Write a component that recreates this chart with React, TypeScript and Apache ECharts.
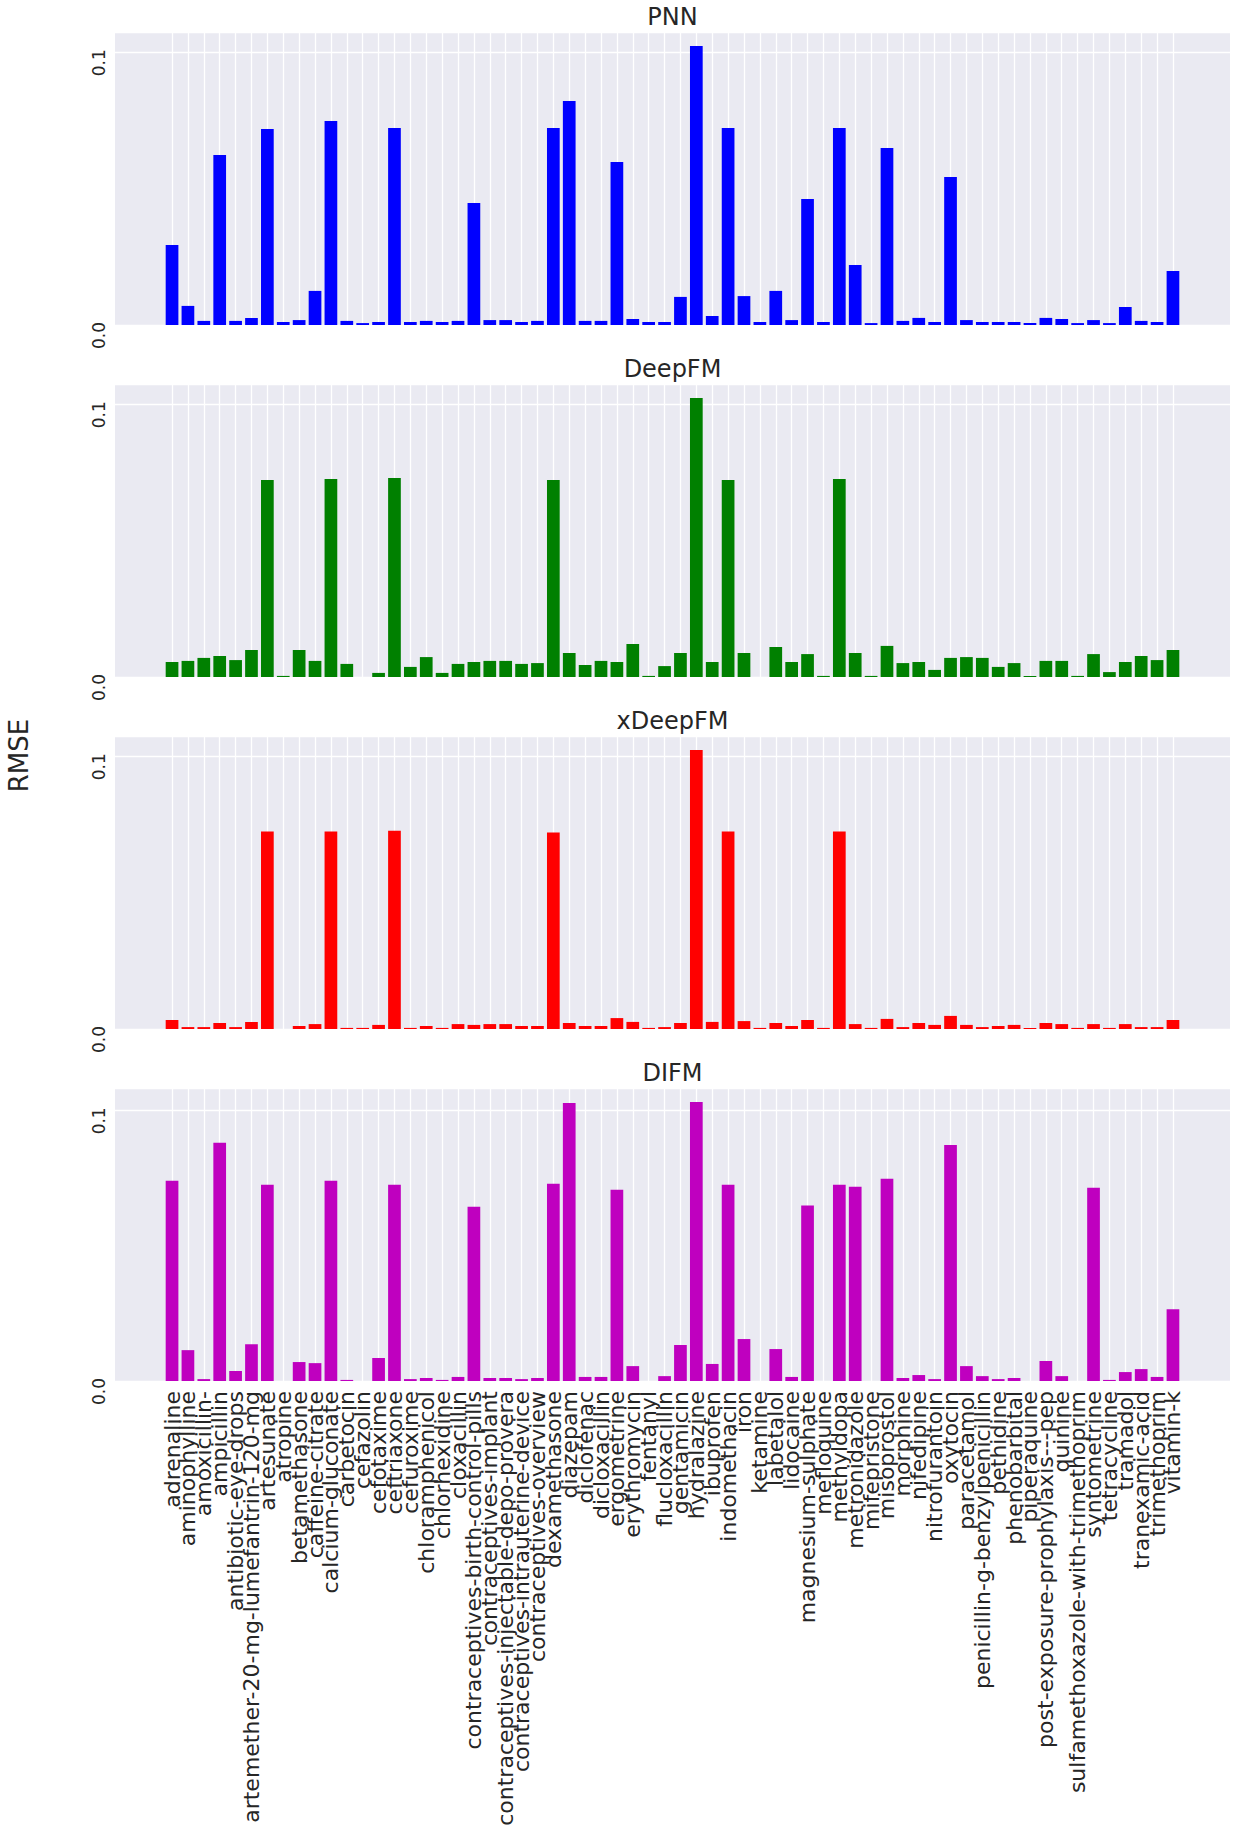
import React, { useEffect, useRef } from "react";
import * as echarts from "echarts";

const categories = [
  "adrenaline", "aminophylline", "amoxicillin-", "ampicillin", "antibiotic-eye-drops",
  "artemether-20-mg-lumefantrin-120-mg", "artesunate", "atropine", "betamethasone", "caffeine-citrate",
  "calcium-gluconate", "carbetocin", "cefazolin", "cefotaxime", "ceftriaxone",
  "cefuroxime", "chloramphenicol", "chlorhexidine", "cloxacillin", "contraceptives-birth-control-pills",
  "contraceptives-implant", "contraceptives-injectable-depo-provera", "contraceptives-intrauterine-device", "contraceptives-overview", "dexamethasone",
  "diazepam", "diclofenac", "dicloxacillin", "ergometrine", "erythromycin",
  "fentanyl", "flucloxacillin", "gentamicin", "hydralazine", "ibuprofen",
  "indomethacin", "iron", "ketamine", "labetalol", "lidocaine",
  "magnesium-sulphate", "mefloquine", "methyldopa", "metronidazole", "mifepristone",
  "misoprostol", "morphine", "nifedipine", "nitrofurantoin", "oxytocin",
  "paracetamol", "penicillin-g-benzylpenicillin", "pethidine", "phenobarbital", "piperaquine",
  "post-exposure-prophylaxis---pep", "quinine", "sulfamethoxazole-with-trimethoprim", "syntometrine", "tetracycline",
  "tramadol", "tranexamic-acid", "trimethoprim", "vitamin-k",
];

const pnnValues = [
  0.0293, 0.0070, 0.0015, 0.0623, 0.0015, 0.0026, 0.0719, 0.0011, 0.0018, 0.0125,
  0.0748, 0.0015, 0.0007, 0.0011, 0.0722, 0.0011, 0.0015, 0.0011, 0.0015, 0.0447,
  0.0018, 0.0018, 0.0011, 0.0015, 0.0722, 0.0821, 0.0015, 0.0015, 0.0598, 0.0022,
  0.0011, 0.0011, 0.0103, 0.1023, 0.0033, 0.0722, 0.0106, 0.0011, 0.0125, 0.0018,
  0.0462, 0.0011, 0.0722, 0.0220, 0.0007, 0.0649, 0.0015, 0.0026, 0.0011, 0.0543,
  0.0018, 0.0011, 0.0011, 0.0011, 0.0007, 0.0026, 0.0022, 0.0007, 0.0018, 0.0007,
  0.0066, 0.0015, 0.0011, 0.0198,
];

const deepfmValues = [
  0.0055, 0.0059, 0.0070, 0.0077, 0.0062, 0.0099, 0.0722, 0.0004, 0.0099, 0.0059,
  0.0726, 0.0048, 0.0, 0.0015, 0.0730, 0.0037, 0.0073, 0.0015, 0.0048, 0.0055,
  0.0059, 0.0059, 0.0048, 0.0051, 0.0722, 0.0088, 0.0044, 0.0059, 0.0055, 0.0121,
  0.0004, 0.0040, 0.0088, 0.1023, 0.0055, 0.0722, 0.0088, 0.0, 0.0110, 0.0055,
  0.0084, 0.0004, 0.0726, 0.0088, 0.0004, 0.0114, 0.0051, 0.0055, 0.0026, 0.0070,
  0.0073, 0.0070, 0.0037, 0.0051, 0.0004, 0.0059, 0.0059, 0.0004, 0.0084, 0.0018,
  0.0055, 0.0077, 0.0062, 0.0099,
];

const xdeepfmValues = [
  0.0033, 0.0007, 0.0007, 0.0022, 0.0007, 0.0026, 0.0724, 0.0, 0.0011, 0.0018,
  0.0724, 0.0004, 0.0004, 0.0015, 0.0727, 0.0004, 0.0011, 0.0004, 0.0018, 0.0015,
  0.0018, 0.0018, 0.0011, 0.0011, 0.0720, 0.0022, 0.0011, 0.0011, 0.0040, 0.0026,
  0.0004, 0.0007, 0.0022, 0.1023, 0.0026, 0.0724, 0.0029, 0.0004, 0.0022, 0.0011,
  0.0033, 0.0004, 0.0724, 0.0018, 0.0004, 0.0037, 0.0007, 0.0022, 0.0015, 0.0048,
  0.0015, 0.0007, 0.0011, 0.0015, 0.0004, 0.0022, 0.0018, 0.0004, 0.0018, 0.0004,
  0.0018, 0.0007, 0.0007, 0.0033,
];

const difmValues = [
  0.0740, 0.0114, 0.0007, 0.0880, 0.0037, 0.0136, 0.0725, 0.0, 0.0070, 0.0066,
  0.0740, 0.0004, 0.0, 0.0085, 0.0725, 0.0007, 0.0011, 0.0004, 0.0015, 0.0644,
  0.0011, 0.0011, 0.0007, 0.0011, 0.0729, 0.1027, 0.0015, 0.0015, 0.0707, 0.0055,
  0.0, 0.0018, 0.0133, 0.1031, 0.0063, 0.0725, 0.0155, 0.0, 0.0118, 0.0015,
  0.0648, 0.0, 0.0725, 0.0718, 0.0, 0.0747, 0.0011, 0.0022, 0.0007, 0.0872,
  0.0055, 0.0018, 0.0007, 0.0011, 0.0, 0.0074, 0.0018, 0.0, 0.0714, 0.0004,
  0.0033, 0.0044, 0.0015, 0.0265,
];

const modelNames = ["PNN", "DeepFM", "xDeepFM", "DIFM"];
const modelColors = ["#0000ff", "#008000", "#ff0000", "#bf00bf"];
const modelValues = [pnnValues, deepfmValues, xdeepfmValues, difmValues];
const yTickStep = 0.1;
const yAxisTitle = "RMSE";

const W = 1238;
const H = 1832;
const FONT = "DejaVu Sans";
const TEXT = "#262626";
const BG = "#EAEAF2";
const PLOT_LEFT = 115;
const PLOT_RIGHT = 1230;
const TOP0 = 32;
const STEP = 352;
const PH = 293;

function buildOption() {
  const n = categories.length;
  const dataSpan = n - 1 + 0.8;
  const unit = (PLOT_RIGHT - PLOT_LEFT) / (dataSpan * 1.1);
  const firstCenter = PLOT_LEFT + (dataSpan * 0.05 + 0.4) * unit;
  const innerWidth = (n - 1) * unit;

  const grid: any[] = [];
  const xAxis: any[] = [];
  const yAxis: any[] = [];
  const series: any[] = [];
  const graphic: any[] = [];

  modelNames.forEach((name, i) => {
    const top = TOP0 + STEP * i;
    const vals = modelValues[i];
    const ymax = Math.max(...vals) * 1.05;
    const isLast = i === modelNames.length - 1;

    // background grid (full plot area)
    grid.push({
      left: PLOT_LEFT,
      top,
      width: PLOT_RIGHT - PLOT_LEFT,
      height: PH,
      show: true,
      backgroundColor: BG,
      borderWidth: 0,
    });
    xAxis.push({ gridIndex: 2 * i, type: "value", min: 0, max: 1, show: false });
    yAxis.push({
      gridIndex: 2 * i,
      type: "value",
      min: 0,
      max: ymax,
      interval: yTickStep,
      axisLine: { show: false },
      axisTick: { show: false },
      splitLine: { show: true, lineStyle: { color: "#ffffff", width: 1.3 } },
      axisLabel: {
        rotate: 90,
        fontSize: 17,
        fontFamily: FONT,
        color: TEXT,
        margin: 8,
        padding: [0, 21, 0, 0],
        showMaxLabel: false,
        formatter: (v: number) => v.toFixed(1),
      },
    });

    // category grid (bar centres)
    grid.push({
      left: firstCenter,
      top,
      width: innerWidth,
      height: PH,
      show: false,
    });
    xAxis.push({
      gridIndex: 2 * i + 1,
      type: "category",
      data: categories,
      boundaryGap: false,
      axisLine: { show: false },
      axisTick: { show: false },
      splitLine: { show: true, interval: 0, lineStyle: { color: "#ffffff", width: 1.3 } },
      axisLabel: {
        show: isLast,
        interval: 0,
        rotate: 90,
        fontSize: 22,
        fontFamily: FONT,
        color: TEXT,
        margin: 10,
      },
    });
    yAxis.push({ gridIndex: 2 * i + 1, type: "value", min: 0, max: ymax, show: false });

    series.push({
      type: "bar",
      name,
      xAxisIndex: 2 * i + 1,
      yAxisIndex: 2 * i + 1,
      data: vals,
      barWidth: 0.8 * unit,
      clip: false,
      itemStyle: { color: modelColors[i] },
      silent: true,
    });

    graphic.push({
      type: "text",
      x: (PLOT_LEFT + PLOT_RIGHT) / 2,
      y: 17.2 + STEP * i,
      style: {
        text: name,
        fontSize: 24,
        fontFamily: FONT,
        fill: TEXT,
        textAlign: "center",
        textVerticalAlign: "middle",
      },
    });
  });

  graphic.push({
    type: "text",
    x: 18.8,
    y: 755.5,
    rotation: Math.PI / 2,
    style: {
      text: yAxisTitle,
      fontSize: 26,
      fontFamily: FONT,
      fill: TEXT,
      textAlign: "center",
      textVerticalAlign: "middle",
    },
  });

  return {
    animation: false,
    textStyle: { fontFamily: FONT },
    grid,
    xAxis,
    yAxis,
    series,
    graphic,
  };
}

export default function App() {
  const ref = useRef<HTMLDivElement>(null);
  useEffect(() => {
    if (!ref.current) return;
    const chart = echarts.init(ref.current, undefined, { renderer: "svg", width: W, height: H });
    chart.setOption(buildOption() as any);
    return () => chart.dispose();
  }, []);
  return (
    <div
      ref={ref}
      style={{ position: "absolute", left: 0, top: 0, width: W, height: H, background: "#ffffff" }}
    />
  );
}
